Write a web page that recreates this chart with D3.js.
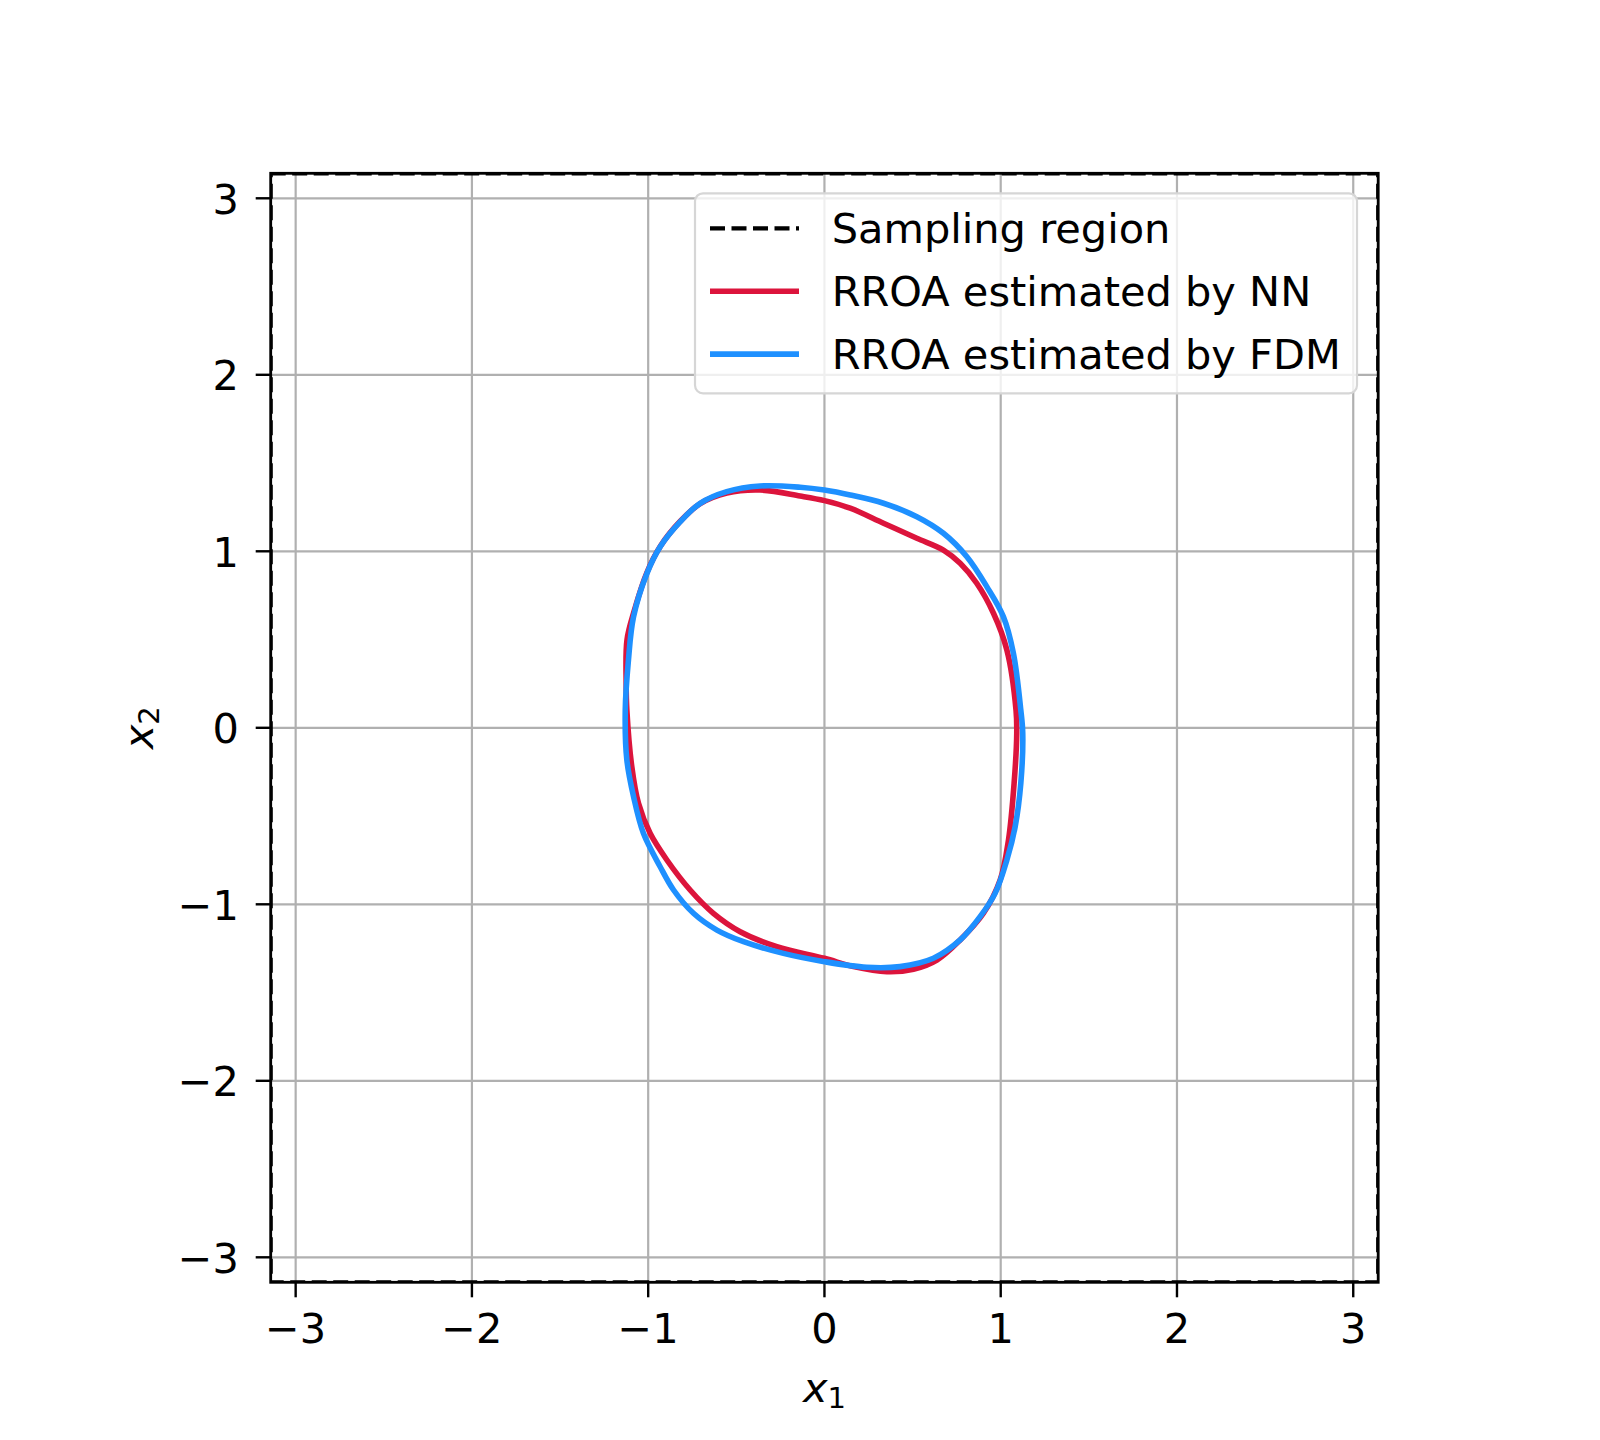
<!DOCTYPE html>
<html>
<head>
<meta charset="utf-8">
<script src="https://cdn.jsdelivr.net/npm/d3@7"></script>
<style>
  body { margin: 0; background: #fff; }
  svg text { font-family: "DejaVu Sans", sans-serif; fill: #000; }
</style>
</head>
<body>
<svg id="chart"></svg>
<script>
// tick values on both axes
const xTicks = [-3, -2, -1, 0, 1, 2, 3];
const yTicks = [-3, -2, -1, 0, 1, 2, 3];

// sampling region bounds
const samplingRegion = [-Math.PI, Math.PI];

// boundary estimated by the neural network (x1, x2)
const nnBoundary = [
    [-1.121, 0.10], [-1.125, 0.25], [-1.120, 0.50], [-1.080, 0.66], [-1.007, 0.88],
    [-0.930, 1.03], [-0.818, 1.17], [-0.705, 1.27], [-0.554, 1.33], [-0.365, 1.347],
    [-0.138, 1.313], [0.000, 1.287], [0.146, 1.244], [0.335, 1.159], [0.524, 1.074],
    [0.675, 1.007], [0.770, 0.932], [0.864, 0.819], [0.959, 0.649], [1.035, 0.441],
    [1.087, 0.10], [1.091, -0.031], [1.076, -0.314], [1.044, -0.636], [0.997, -0.862],
    [0.902, -1.051], [0.770, -1.202], [0.638, -1.316], [0.505, -1.368], [0.354, -1.382],
    [0.165, -1.353], [0.000, -1.306], [-0.270, -1.240], [-0.478, -1.155], [-0.630, -1.051],
    [-0.762, -0.919], [-0.894, -0.749], [-0.989, -0.598], [-1.055, -0.428], [-1.093, -0.220]
];

// boundary estimated by finite differences (x1, x2)
const fdmBoundary = [
    [-1.130, 0.10], [-1.112, 0.384], [-1.083, 0.63], [-1.007, 0.875], [-0.932, 1.026],
    [-0.818, 1.168], [-0.705, 1.272], [-0.554, 1.338], [-0.365, 1.370], [-0.138, 1.363],
    [0.000, 1.347], [0.146, 1.319], [0.335, 1.272], [0.524, 1.196], [0.675, 1.102],
    [0.808, 0.969], [0.921, 0.80], [1.015, 0.63], [1.072, 0.422], [1.114, 0.10],
    [1.125, -0.031], [1.114, -0.314], [1.082, -0.560], [1.035, -0.749], [0.968, -0.938],
    [0.883, -1.070], [0.770, -1.202], [0.618, -1.306], [0.429, -1.353], [0.240, -1.357],
    [0.000, -1.325], [-0.233, -1.278], [-0.459, -1.212], [-0.610, -1.146], [-0.743, -1.051],
    [-0.856, -0.919], [-0.932, -0.787], [-1.027, -0.598], [-1.083, -0.390], [-1.121, -0.182]
];

const legendItems = [
    {label: "Sampling region", color: "#000000", dash: "15,6.5", width: 4.2},
    {label: "RROA estimated by NN", color: "crimson", dash: null, width: 5.6},
    {label: "RROA estimated by FDM", color: "#1e90ff", dash: null, width: 5.6}
];

// set the plot box
const W = 1600, H = 1440;
const box = {left: 270.7, right: 1378.2, top: 173.3, bottom: 1282.3};
const fontSize = 41.5;

const x = d3.scaleLinear().domain([-Math.PI, Math.PI]).range([box.left, box.right]);
const y = d3.scaleLinear().domain([-Math.PI, Math.PI]).range([box.bottom, box.top]);

const svg = d3.select("#chart").attr("width", W).attr("height", H);

svg.append("defs").append("clipPath").attr("id", "plot-clip")
    .append("rect")
    .attr("x", box.left).attr("y", box.top)
    .attr("width", box.right - box.left).attr("height", box.bottom - box.top);

// gridlines
const grid = svg.append("g").attr("class", "grid");
grid.selectAll(".gx").data(xTicks).enter().append("line")
    .attr("x1", d => x(d)).attr("x2", d => x(d))
    .attr("y1", box.top).attr("y2", box.bottom)
    .attr("stroke", "#b0b0b0").attr("stroke-width", 2.2);
grid.selectAll(".gy").data(yTicks).enter().append("line")
    .attr("y1", d => y(d)).attr("y2", d => y(d))
    .attr("x1", box.left).attr("x2", box.right)
    .attr("stroke", "#b0b0b0").attr("stroke-width", 2.2);

const plot = svg.append("g").attr("clip-path", "url(#plot-clip)");

// sampling region
plot.append("rect")
    .attr("x", x(samplingRegion[0])).attr("y", y(samplingRegion[1]))
    .attr("width", x(samplingRegion[1]) - x(samplingRegion[0]))
    .attr("height", y(samplingRegion[0]) - y(samplingRegion[1]))
    .attr("fill", "none").attr("stroke", "#000")
    .attr("stroke-width", 4.2).attr("stroke-dasharray", "15,6.5");

// boundary curves
const boundaryLine = d3.line().x(d => x(d[0])).y(d => y(d[1])).curve(d3.curveCatmullRomClosed);

plot.append("path").attr("d", boundaryLine(nnBoundary))
    .attr("fill", "none").attr("stroke", "crimson").attr("stroke-width", 5.6)
    .attr("stroke-linejoin", "round");
plot.append("path").attr("d", boundaryLine(fdmBoundary))
    .attr("fill", "none").attr("stroke", "#1e90ff").attr("stroke-width", 5.6)
    .attr("stroke-linejoin", "round");

// frame
svg.append("rect")
    .attr("x", box.left).attr("y", box.top)
    .attr("width", box.right - box.left).attr("height", box.bottom - box.top)
    .attr("fill", "none").attr("stroke", "#000").attr("stroke-width", 2.8);

// x axis ticks + labels
const fmt = d => d < 0 ? "\u2212" + Math.abs(d) : String(d);
const xAx = svg.append("g").attr("class", "axis");
xAx.selectAll("line").data(xTicks).enter().append("line")
    .attr("x1", d => x(d)).attr("x2", d => x(d))
    .attr("y1", box.bottom).attr("y2", box.bottom + 15)
    .attr("stroke", "#000").attr("stroke-width", 2.4);
xAx.selectAll("text").data(xTicks).enter().append("text")
    .attr("x", d => x(d)).attr("y", 1342.7)
    .attr("text-anchor", "middle").attr("font-size", fontSize)
    .text(fmt);

// y axis ticks + labels
const yAx = svg.append("g").attr("class", "axis");
yAx.selectAll("line").data(yTicks).enter().append("line")
    .attr("y1", d => y(d)).attr("y2", d => y(d))
    .attr("x1", box.left - 15).attr("x2", box.left)
    .attr("stroke", "#000").attr("stroke-width", 2.4);
yAx.selectAll("text").data(yTicks).enter().append("text")
    .attr("x", 239).attr("y", d => y(d) + 15.5)
    .attr("text-anchor", "end").attr("font-size", fontSize)
    .text(fmt);

// axis titles
const xt = svg.append("text")
    .attr("x", (box.left + box.right) / 2).attr("y", 1402)
    .attr("text-anchor", "middle").attr("font-size", fontSize);
xt.append("tspan").attr("font-style", "italic").text("x");
xt.append("tspan").attr("font-size", 29).attr("dy", 6).text("1");

const yt = svg.append("text")
    .attr("transform", `translate(153,${(box.top + box.bottom) / 2}) rotate(-90)`)
    .attr("text-anchor", "middle").attr("font-size", fontSize);
yt.append("tspan").attr("font-style", "italic").text("x");
yt.append("tspan").attr("font-size", 29).attr("dy", 6).text("2");

// legend
const lg = {left: 695, top: 193.3, right: 1357, bottom: 393.3};
const legend = svg.append("g").attr("class", "legend");
legend.append("rect")
    .attr("x", lg.left).attr("y", lg.top)
    .attr("width", lg.right - lg.left).attr("height", lg.bottom - lg.top)
    .attr("rx", 8).attr("ry", 8)
    .attr("fill", "#fff").attr("fill-opacity", 0.8)
    .attr("stroke", "#d6d6d6").attr("stroke-width", 2.2);

const rows = legend.selectAll(".row").data(legendItems).enter().append("g")
    .attr("transform", (d, i) => `translate(0,${228.3 + i * 62.9})`);
rows.append("line")
    .attr("x1", 710).attr("x2", 799).attr("y1", 0).attr("y2", 0)
    .attr("stroke", d => d.color).attr("stroke-width", d => d.width)
    .attr("stroke-dasharray", d => d.dash);
rows.append("text")
    .attr("x", 831.7).attr("y", 15)
    .attr("font-size", fontSize)
    .text(d => d.label);
</script>
</body>
</html>
